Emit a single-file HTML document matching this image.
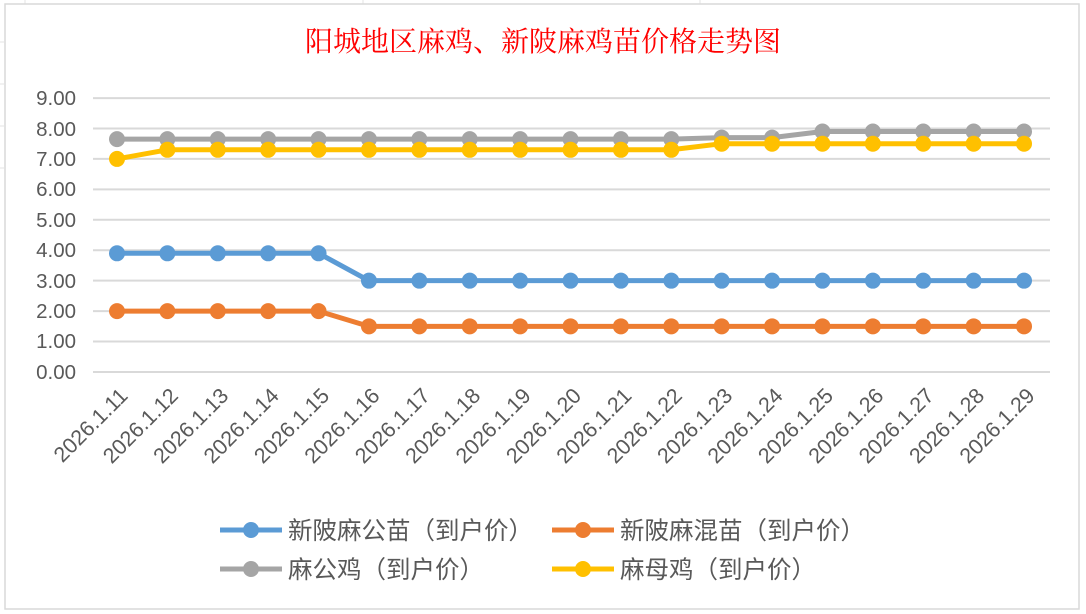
<!DOCTYPE html>
<html><head><meta charset="utf-8"><style>
html,body{margin:0;padding:0;background:#fff;}
svg{display:block;font-family:"Liberation Sans","Noto Sans CJK SC",sans-serif;}
</style></head><body>
<svg width="1086" height="614" viewBox="0 0 1086 614">
<g stroke="#e3e3e3" stroke-width="1">
<line x1="25" y1="0" x2="25" y2="4"/><line x1="363" y1="0" x2="363" y2="4"/><line x1="700" y1="0" x2="700" y2="4"/>
<line x1="0" y1="42" x2="4" y2="42"/><line x1="0" y1="84" x2="4" y2="84"/><line x1="0" y1="126" x2="4" y2="126"/><line x1="0" y1="168" x2="4" y2="168"/>
</g>
<rect x="5" y="4" width="1074" height="605" fill="#fff" stroke="#d9d9d9" stroke-width="1.5"/>
<text x="543" y="51" text-anchor="middle" font-family="'Liberation Serif','Noto Serif CJK SC',serif" font-size="28" fill="#ff0000">阳城地区麻鸡、新陂麻鸡苗价格走势图</text>
<g stroke="#d9d9d9" stroke-width="2">
<line x1="93" x2="1050" y1="98.1" y2="98.1"/><line x1="93" x2="1050" y1="128.5" y2="128.5"/><line x1="93" x2="1050" y1="158.9" y2="158.9"/><line x1="93" x2="1050" y1="189.4" y2="189.4"/><line x1="93" x2="1050" y1="219.8" y2="219.8"/><line x1="93" x2="1050" y1="250.2" y2="250.2"/><line x1="93" x2="1050" y1="280.6" y2="280.6"/><line x1="93" x2="1050" y1="311.1" y2="311.1"/><line x1="93" x2="1050" y1="341.5" y2="341.5"/><line x1="93" x2="1050" y1="372" y2="372"/>
</g>
<g font-size="20.5" fill="#595959" text-anchor="end">
<text x="76" y="105">9.00</text><text x="76" y="136">8.00</text><text x="76" y="166">7.00</text><text x="76" y="196">6.00</text><text x="76" y="227">5.00</text><text x="76" y="257">4.00</text><text x="76" y="288">3.00</text><text x="76" y="318">2.00</text><text x="76" y="348">1.00</text><text x="76" y="379">0.00</text>
</g>
<g id="xl" font-size="21.5" fill="#595959" text-anchor="end"></g>
<g id="series"></g>
<g font-size="24.5" fill="#595959">
<line x1="220" y1="530" x2="282" y2="530" stroke="#5b9bd5" stroke-width="5"/><circle cx="251" cy="530" r="8" fill="#5b9bd5"/>
<text x="288" y="539">新陂麻公苗（到户价）</text>
<line x1="552" y1="530" x2="614" y2="530" stroke="#ed7d31" stroke-width="5"/><circle cx="583" cy="530" r="8" fill="#ed7d31"/>
<text x="620" y="539">新陂麻混苗（到户价）</text>
<line x1="220" y1="569" x2="282" y2="569" stroke="#a5a5a5" stroke-width="5"/><circle cx="251" cy="569" r="8" fill="#a5a5a5"/>
<text x="288" y="578">麻公鸡（到户价）</text>
<line x1="552" y1="569" x2="614" y2="569" stroke="#ffc000" stroke-width="5"/><circle cx="583" cy="569" r="8" fill="#ffc000"/>
<text x="620" y="578">麻母鸡（到户价）</text>
</g>
</svg>
<script>
var ns="http://www.w3.org/2000/svg";
function X(i){return 117+i*50.39;}
function Y(v){return 372-v*30.44;}
var xl=document.getElementById("xl");
for(var i=0;i<19;i++){var t=document.createElementNS(ns,"text");var x=X(i)+12,y=397;
t.setAttribute("x",x);t.setAttribute("y",y);t.setAttribute("transform","rotate(-45 "+x+" "+y+")");t.textContent="2026.1."+(11+i);xl.appendChild(t);}
var S=[["#a5a5a5",[7.65,7.65,7.65,7.65,7.65,7.65,7.65,7.65,7.65,7.65,7.65,7.65,7.7,7.7,7.9,7.9,7.9,7.9,7.9]],
["#ffc000",[7,7.3,7.3,7.3,7.3,7.3,7.3,7.3,7.3,7.3,7.3,7.3,7.5,7.5,7.5,7.5,7.5,7.5,7.5]],
["#5b9bd5",[3.9,3.9,3.9,3.9,3.9,3,3,3,3,3,3,3,3,3,3,3,3,3,3]],
["#ed7d31",[2,2,2,2,2,1.5,1.5,1.5,1.5,1.5,1.5,1.5,1.5,1.5,1.5,1.5,1.5,1.5,1.5]]];
var g=document.getElementById("series");
S.forEach(function(s){var p=s[1].map(function(v,i){return X(i)+","+Y(v);}).join(" ");
var pl=document.createElementNS(ns,"polyline");pl.setAttribute("points",p);pl.setAttribute("fill","none");pl.setAttribute("stroke",s[0]);pl.setAttribute("stroke-width","5");pl.setAttribute("stroke-linejoin","round");g.appendChild(pl);
s[1].forEach(function(v,i){var c=document.createElementNS(ns,"circle");c.setAttribute("cx",X(i));c.setAttribute("cy",Y(v));c.setAttribute("r","8");c.setAttribute("fill",s[0]);g.appendChild(c);});});
</script>
</body></html>
